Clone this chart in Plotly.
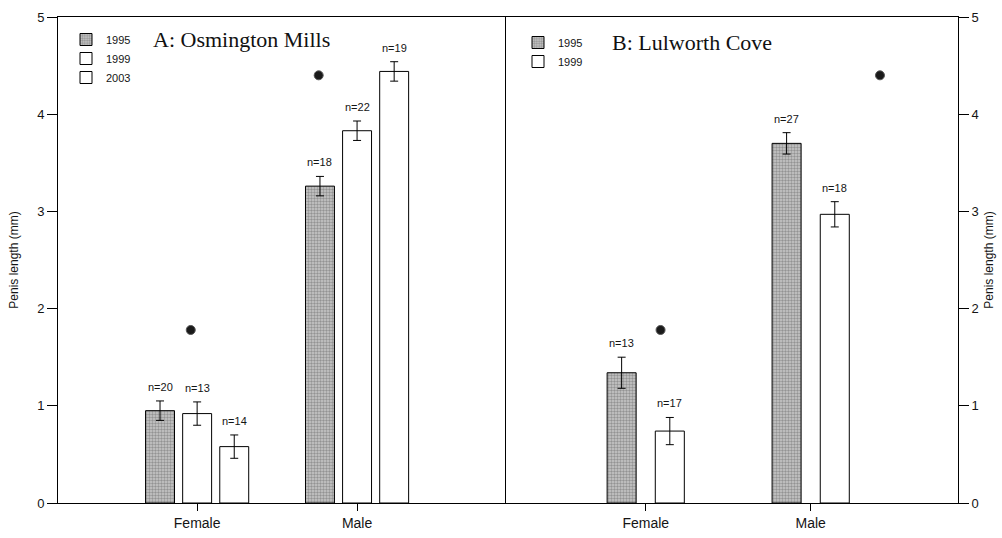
import plotly.graph_objects as go

# ---- data ---------------------------------------------------------------
sexes = ["Female", "Male"]

# A: Osmington Mills (mean penis length, mm, with SE)
a_mean_1995 = [0.95, 3.26]
a_mean_1999 = [0.92, 3.83]
a_mean_2003 = [0.58, 4.44]
a_err_1995 = [0.10, 0.10]
a_err_1999 = [0.12, 0.10]
a_err_2003 = [0.12, 0.10]
a_n_1995 = [20, 18]
a_n_1999 = [13, 22]
a_n_2003 = [14, 19]
a_sig_x = [-0.04, -0.24]
a_sig_y = [1.78, 4.40]

# B: Lulworth Cove
b_mean_1995 = [1.34, 3.70]
b_mean_1999 = [0.74, 2.97]
b_err_1995 = [0.16, 0.11]
b_err_1999 = [0.14, 0.13]
b_n_1995 = [13, 27]
b_n_1999 = [17, 18]
b_sig_x = [0.09, 0.42]
b_sig_y = [1.78, 4.40]

y_ticks = [0, 1, 2, 3, 4, 5]

# ---- styles -------------------------------------------------------------
SANS = "Liberation Sans, Arial, sans-serif"
SERIF = "Liberation Serif, Times New Roman, serif"
INK = "#141414"
stipple = dict(color="#bdbdbd", pattern=dict(shape=".", fgcolor="#5e5e5e",
                                              bgcolor="#c9c9c9", size=3, solidity=0.5),
               line=dict(color="black", width=1))
plain = dict(color="white", line=dict(color="black", width=1))

fig = go.Figure()
labels = []


def add_group(means, errs, ns, name, centre, width, marker, xa, ya, legend):
    xs = list(range(len(sexes)))
    fig.add_trace(go.Bar(
        x=xs, y=means, name=name, width=width, offset=centre - width / 2,
        marker=marker, xaxis=xa, yaxis=ya, legend=legend,
        error_y=dict(type="data", array=errs, color="black", thickness=1, width=4),
    ))
    # sample-size labels sit just above each error bar
    for i, (m, e, n) in enumerate(zip(means, errs, ns)):
        labels.append(dict(
            x=i + centre, y=m + e, xref=xa, yref=ya, text=f"n={n}",
            showarrow=False, yanchor="bottom", yshift=6,
            font=dict(family=SANS, size=11, color=INK),
        ))


# left panel: three years
add_group(a_mean_1995, a_err_1995, a_n_1995, "1995", -0.232, 0.181, stipple, "x", "y", "legend")
add_group(a_mean_1999, a_err_1999, a_n_1999, "1999", 0.0, 0.181, plain, "x", "y", "legend")
add_group(a_mean_2003, a_err_2003, a_n_2003, "2003", 0.232, 0.181, plain, "x", "y", "legend")
# right panel: two years
add_group(b_mean_1995, b_err_1995, b_n_1995, "1995", -0.146, 0.176, stipple, "x2", "y2", "legend2")
add_group(b_mean_1999, b_err_1999, b_n_1999, "1999", 0.146, 0.176, plain, "x2", "y2", "legend2")

# significance markers
for sx, sy, xa, ya in [(a_sig_x, a_sig_y, "x", "y"), (b_sig_x, b_sig_y, "x2", "y2")]:
    fig.add_trace(go.Scatter(
        x=[i + dx for i, dx in enumerate(sx)], y=sy, mode="markers",
        marker=dict(size=9, color="#1a1a1a", line=dict(color="#555", width=1)),
        showlegend=False, xaxis=xa, yaxis=ya, hoverinfo="skip",
    ))

split = (505 - 58) / 900

xcommon = dict(tickvals=[0, 1], ticktext=sexes, ticks="outside", ticklen=7,
               tickcolor="black", showline=True, linecolor="black", linewidth=1,
               mirror=True, showgrid=False, zeroline=False, automargin=False,
               tickfont=dict(family=SANS, size=14, color=INK))
ycommon = dict(range=[0, 5], tickvals=y_ticks, ticks="outside", ticklen=10,
               tickcolor="black", showline=True, linecolor="black", linewidth=1,
               showgrid=False, zeroline=False, automargin=False,
               tickfont=dict(family=SANS, size=13, color=INK))
ytitle_font = dict(family=SANS, size=12, color=INK)

titles = [
    dict(text="A: Osmington Mills", xref="paper", yref="paper",
         x=(151 - 58) / 900, y=1 - (40 - 17) / 486, xanchor="left", yanchor="middle",
         showarrow=False, font=dict(family=SERIF, size=22, color="#111")),
    dict(text="B: Lulworth Cove", xref="paper", yref="paper",
         x=(610 - 58) / 900, y=1 - (42 - 17) / 486, xanchor="left", yanchor="middle",
         showarrow=False, font=dict(family=SERIF, size=22, color="#111")),
]

fig.update_layout(
    width=1002, height=538,
    margin=dict(l=58, r=44, t=17, b=35, autoexpand=False),
    paper_bgcolor="white", plot_bgcolor="white",
    xaxis=dict(domain=[0, split], range=[-0.87, 1.925], anchor="y", **xcommon),
    xaxis2=dict(domain=[split, 1], range=[-0.853, 1.893], anchor="y2", **xcommon),
    yaxis=dict(anchor="x", side="left", mirror=True,
               title=dict(text="Penis length (mm)", font=ytitle_font), **ycommon),
    yaxis2=dict(anchor="x2", side="right",
                title=dict(text="Penis length (mm)", font=ytitle_font, standoff=6), **ycommon),
    legend=dict(x=(66 - 58) / 900, y=1 - (25 - 17) / 486, xanchor="left", yanchor="top",
                bgcolor="rgba(0,0,0,0)", font=dict(family=SANS, size=11, color=INK),
                itemwidth=30, tracegroupgap=0),
    legend2=dict(x=(518 - 58) / 900, y=1 - (28 - 17) / 486, xanchor="left", yanchor="top",
                 bgcolor="rgba(0,0,0,0)", font=dict(family=SANS, size=11, color=INK),
                 itemwidth=30, tracegroupgap=0),
    annotations=titles + labels,
    showlegend=True,
)

fig.write_html("out.html")
